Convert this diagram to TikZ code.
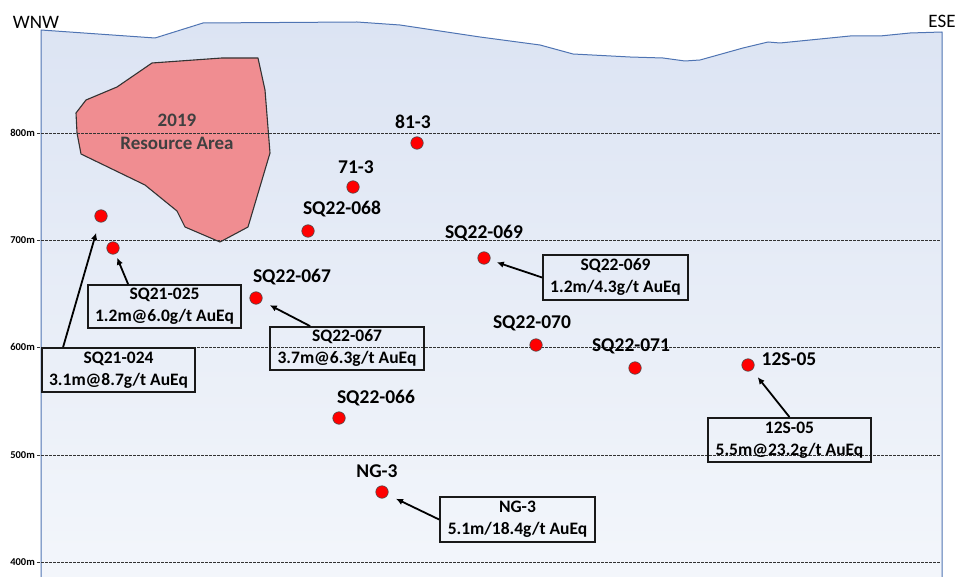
\documentclass[tikz,border=0pt]{standalone}
\usepackage{fontspec}
\setmainfont{Carlito}
\usetikzlibrary{arrows.meta,calc}
\definecolor{terrline}{HTML}{4F74B3}
\definecolor{terrtop}{HTML}{DCE4F3}
\definecolor{terrbot}{HTML}{F3F6FB}
\definecolor{resfill}{HTML}{F08D91}
\definecolor{restext}{HTML}{404040}
\definecolor{dotred}{HTML}{FF0000}
\begin{document}
\begin{tikzpicture}[x=1pt,y=-1pt,
  level/.style={draw=black!80, line width=0.7pt, dash pattern=on 2.5pt off 1.5pt},
  lvllabel/.style={anchor=east, font=\fontsize{10.5}{12}\selectfont\bfseries, inner sep=0pt},
  hole/.style={circle, fill=dotred, draw=black!70, line width=0.6pt, minimum size=12.5pt, inner sep=0pt},
  holelabel/.style={font=\fontsize{19.5}{21}\selectfont\bfseries, inner sep=0pt},
  infobox/.style={draw=black!90, line width=1.8pt, align=center, font=\fontsize{17.5}{22}\selectfont\bfseries, inner sep=0pt},
  boxsize/.style 2 args={minimum width=#1pt, minimum height=#2pt},
  pointer/.style={line width=1.8pt, -{Latex[length=7pt,width=6.5pt]}},
  dirlabel/.style={font=\fontsize{19}{20}\selectfont, inner sep=0pt},
]
\useasboundingbox (0,0) rectangle (957,577);

% terrain section
\shade[top color=terrtop, bottom color=terrbot]
  (41,577) -- (41,30) -- (155,38) -- (203,23) -- (357,22) -- (400,25) -- (440,31)
  -- (480,37) -- (540,45) -- (573,54) -- (630,57) -- (663,58) -- (685,61) -- (700,60)
  -- (743,48) -- (768,42) -- (780,43) -- (800,41) -- (850,36) -- (880,36) -- (910,33)
  -- (942,32) -- (942,577) -- cycle;
\draw[terrline, line width=1pt, line join=round]
  (41,577) -- (41,30) -- (155,38) -- (203,23) -- (357,22) -- (400,25) -- (440,31)
  -- (480,37) -- (540,45) -- (573,54) -- (630,57) -- (663,58) -- (685,61) -- (700,60)
  -- (743,48) -- (768,42) -- (780,43) -- (800,41) -- (850,36) -- (880,36) -- (910,33)
  -- (942,32) -- (942,577);

% 2019 resource area
\draw[fill=resfill, draw=black!80, line width=1.1pt, line join=round]
  (152,63) -- (222,58) -- (258,58) -- (265,90) -- (270,153) -- (248,227) -- (220,242)
  -- (185,227) -- (177,211) -- (145,185) -- (81,154) -- (77,133) -- (76,113)
  -- (86,100) -- (117,87) -- cycle;
\node[font=\fontsize{19}{23}\selectfont\bfseries, text=restext, align=center, inner sep=0pt]
  (res) at (177,132) {2019\\Resource Area};

% elevation levels
\foreach \yy/\lab in {133/800m,240/700m,347/600m,455/500m,562/400m}{
  \draw[level] (37,\yy) -- (940,\yy);
  \node[lvllabel] (lv\lab) at (35,\yy) {\lab};
}

% direction labels
\node[dirlabel] (wnw) at (36,22) {WNW};
\node[dirlabel] (ese) at (942,21) {ESE};

% drill hole intercepts
\node[hole] (d24) at (101,216) {};
\node[hole] (d25) at (113,248) {};
\node[hole] (d67) at (256,298) {};
\node[hole] (d68) at (308,231) {};
\node[hole] (d71) at (353,187) {};
\node[hole] (d81) at (417,143) {};
\node[hole] (d69) at (484,258) {};
\node[hole] (d70) at (536,345) {};
\node[hole] (d071) at (635,368) {};
\node[hole] (d12) at (748,365) {};
\node[hole] (d66) at (339,418) {};
\node[hole] (dng) at (382,492) {};

% hole labels
\node[holelabel] (l81) at (413,122) {81-3};
\node[holelabel] (l71) at (356,167) {71-3};
\node[holelabel] (l68) at (342,209) {SQ22-068};
\node[holelabel] (l69) at (484,233) {SQ22-069};
\node[holelabel] (l70) at (532,323) {SQ22-070};
\node[holelabel] (l071) at (631,346) {SQ22-071};
\node[holelabel] (l12) at (789,359) {12S-05};
\node[holelabel] (l67) at (292,277) {SQ22-067};
\node[holelabel] (l66) at (376,398) {SQ22-066};
\node[holelabel] (lng) at (377,471) {NG-3};

% info boxes
\node[infobox, boxsize={153}{44}] (b24) at (118.5,370) {SQ21-024\\3.1m@8.7g/t AuEq};
\node[infobox, boxsize={153}{43}] (b25) at (164.5,306.5) {SQ21-025\\1.2m@6.0g/t AuEq};
\node[infobox, boxsize={154}{43}] (b67) at (347,348.5) {SQ22-067\\3.7m@6.3g/t AuEq};
\node[infobox, boxsize={145}{45}] (b69) at (615.5,277.5) {SQ22-069\\1.2m/4.3g/t AuEq};
\node[infobox, boxsize={163}{44}] (b12) at (789.5,440) {12S-05\\5.5m@23.2g/t AuEq};
\node[infobox, boxsize={155}{45}] (bng) at (517.5,519.5) {NG-3\\5.1m/18.4g/t AuEq};

% pointer start points
\coordinate (s24) at ($(b24.north west)+(22,0)$);
\coordinate (s25) at ($(b25.north west)+(41,0)$);
\coordinate (s67) at ($(b67.north west)+(41,0)$);
\coordinate (s69) at (b69.west);
\coordinate (s12) at (b12.north);
\coordinate (sng) at (bng.west);

\draw[pointer, shorten >=11pt] (s24) -- (d24);
\draw[pointer, shorten >=4pt] (s25) -- (d25);
\draw[pointer, shorten >=9pt] (s67) -- (d67);
\draw[pointer, shorten >=7pt] (s69) -- (d69);
\draw[pointer, shorten >=9pt] (s12) -- (d12);
\draw[pointer, shorten >=9pt] (sng) -- (dng);
\end{tikzpicture}
\end{document}
